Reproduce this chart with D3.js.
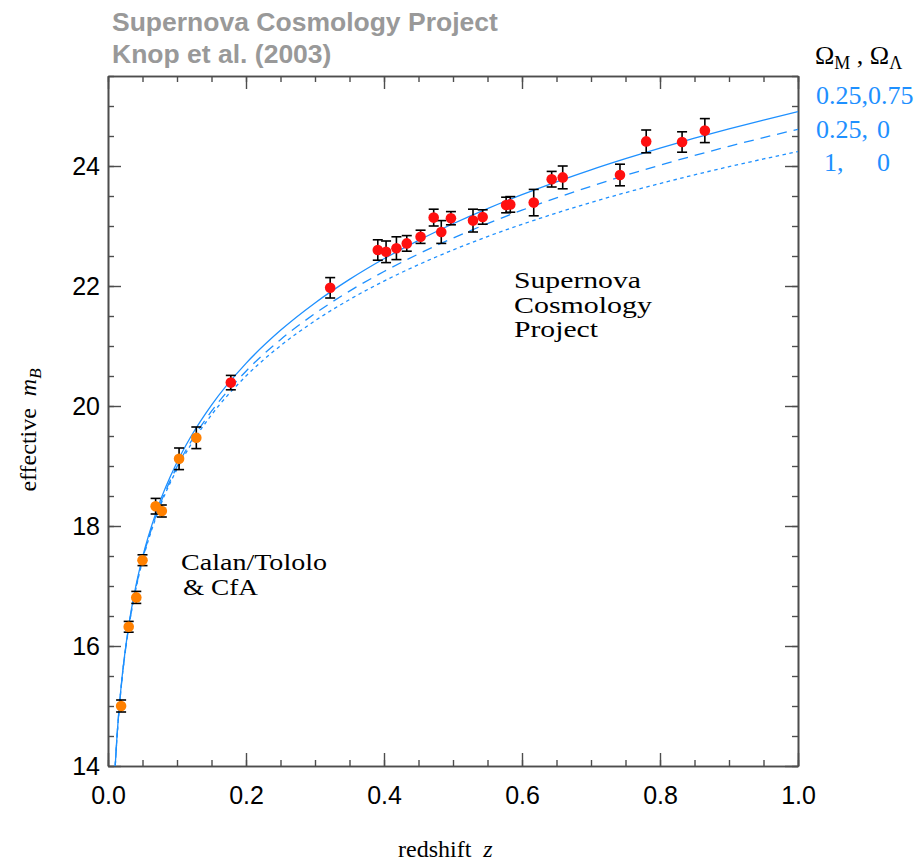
<!DOCTYPE html>
<html>
<head>
<meta charset="utf-8">
<script src="https://cdn.jsdelivr.net/npm/d3@7"></script>
<style>
  body { margin: 0; background: #fff; }
  svg { display: block; }
</style>
</head>
<body>
<div id="chart"></div>
<script>
// ---- data ----
// low-redshift sample (Calan/Tololo & CfA)
var lowZ   = [0.019, 0.030, 0.041, 0.050, 0.069, 0.078, 0.103, 0.128];
var lowM   = [15.00, 16.32, 16.81, 17.43, 18.33, 18.25, 19.12, 19.47];
var lowErr = [0.10, 0.09, 0.10, 0.09, 0.13, 0.10, 0.18, 0.18];

// high-redshift sample (Supernova Cosmology Project)
var scpZ   = [0.178, 0.322, 0.391, 0.403, 0.418, 0.433, 0.453, 0.472, 0.483, 0.497, 0.529,
              0.543, 0.577, 0.583, 0.617, 0.643, 0.659, 0.742, 0.780, 0.832, 0.865];
var scpM   = [20.39, 21.97, 22.60, 22.57, 22.63, 22.71, 22.82, 23.14, 22.90, 23.13, 23.09,
              23.15, 23.35, 23.36, 23.39, 23.78, 23.81, 23.85, 24.41, 24.40, 24.59];
var scpErr = [0.12, 0.17, 0.17, 0.18, 0.19, 0.13, 0.11, 0.14, 0.19, 0.11, 0.19,
              0.12, 0.13, 0.13, 0.22, 0.13, 0.19, 0.18, 0.19, 0.17, 0.20];

// model curves
var curveZ = [0.01, 0.013, 0.015, 0.02, 0.03, 0.04, 0.05, 0.07, 0.1, 0.12, 0.15, 0.2, 0.25, 0.3,
              0.35, 0.4, 0.45, 0.5, 0.55, 0.6, 0.65, 0.7, 0.75, 0.8, 0.85, 0.9, 0.95, 1.0];
var mLambda = [13.915, 14.490, 14.804, 15.437, 16.335, 16.977, 17.477, 18.240, 19.062, 19.488,
               20.016, 20.711, 21.261, 21.718, 22.110, 22.454, 22.761, 23.038, 23.291, 23.523,
               23.737, 23.937, 24.123, 24.298, 24.463, 24.619, 24.766, 24.906];
var mOpen   = [13.906, 14.479, 14.792, 15.421, 16.311, 16.945, 17.439, 18.187, 18.989, 19.402,
               19.913, 20.580, 21.106, 21.541, 21.915, 22.242, 22.534, 22.799, 23.040, 23.263,
               23.469, 23.662, 23.843, 24.013, 24.175, 24.328, 24.473, 24.612];
var mEdS    = [13.902, 14.474, 14.786, 15.413, 16.299, 16.928, 17.418, 18.159, 18.948, 19.354,
               19.852, 20.499, 21.004, 21.420, 21.774, 22.082, 22.355, 22.601, 22.824, 23.028,
               23.216, 23.392, 23.555, 23.708, 23.852, 23.989, 24.118, 24.241];

var legendOmegaM = ["0.25", "0.25", "1,"];
var legendOmegaL = ["0.75", "0", "0"];

var xTicks = [0.0, 0.2, 0.4, 0.6, 0.8, 1.0];
var yTicks = [14, 16, 18, 20, 22, 24];

// ---- layout ----
var margin = {top: 76, right: 120, bottom: 95, left: 108},
    width = 690,
    height = 690;

var blue = "#1e90ff";
var axisColor = "#4d4d4d";

var svgRoot = d3.select("#chart")
  .append("svg")
    .attr("width", 918)
    .attr("height", 861);

var svg = svgRoot.append("g")
    .attr("transform", "translate(" + margin.left + "," + margin.top + ")");

var x = d3.scaleLinear().domain([0, 1]).range([0, width]);
var y = d3.scaleLinear().domain([14, 25.5]).range([height, 0]);

svg.append("clipPath")
    .attr("id", "plotclip")
  .append("rect")
    .attr("width", width)
    .attr("height", height);

// ---- axes (ticks point inward, box on all four sides) ----
var xMinor = d3.range(0, 1.0001, 0.05);
var yMinor = d3.range(14, 25.5001, 0.5);

function styleAxis(g) {
  g.selectAll(".domain").attr("stroke", axisColor).attr("stroke-width", 1.6);
  g.selectAll(".tick line").attr("stroke", axisColor).attr("stroke-width", 1.4);
  g.selectAll("text")
    .attr("fill", "#000")
    .style("font-family", "'Liberation Sans', Arial, sans-serif")
    .style("font-size", "25px");
}

// bottom
svg.append("g")
    .attr("transform", "translate(0," + height + ")")
    .call(d3.axisBottom(x).tickValues(xMinor).tickSizeInner(-6).tickSizeOuter(0).tickFormat(""))
    .call(styleAxis);
svg.append("g")
    .attr("transform", "translate(0," + height + ")")
    .call(d3.axisBottom(x).tickValues(xTicks).tickSizeInner(-13).tickSizeOuter(0)
      .tickPadding(20).tickFormat(d3.format(".1f")))
    .call(styleAxis);
// top
svg.append("g")
    .call(d3.axisTop(x).tickValues(xMinor).tickSizeInner(-6).tickSizeOuter(0).tickFormat(""))
    .call(styleAxis);
svg.append("g")
    .call(d3.axisTop(x).tickValues(xTicks).tickSizeInner(-13).tickSizeOuter(0).tickFormat(""))
    .call(styleAxis);
// left
svg.append("g")
    .call(d3.axisLeft(y).tickValues(yMinor).tickSizeInner(-6).tickSizeOuter(0).tickFormat(""))
    .call(styleAxis);
svg.append("g")
    .call(d3.axisLeft(y).tickValues(yTicks).tickSizeInner(-13).tickSizeOuter(0)
      .tickPadding(8).tickFormat(d3.format("d")))
    .call(styleAxis);
// right
svg.append("g")
    .attr("transform", "translate(" + width + ",0)")
    .call(d3.axisRight(y).tickValues(yMinor).tickSizeInner(-6).tickSizeOuter(0).tickFormat(""))
    .call(styleAxis);
svg.append("g")
    .attr("transform", "translate(" + width + ",0)")
    .call(d3.axisRight(y).tickValues(yTicks).tickSizeInner(-13).tickSizeOuter(0).tickFormat(""))
    .call(styleAxis);

// ---- model curves ----
var curves = [
  {m: mLambda, dash: null},
  {m: mOpen,   dash: "10,7"},
  {m: mEdS,    dash: "3.5,3.5"}
];

var line = d3.line()
    .x(function(d) { return x(d[0]); })
    .y(function(d) { return y(d[1]); })
    .curve(d3.curveMonotoneX);

svg.append("g")
    .attr("clip-path", "url(#plotclip)")
  .selectAll("path")
  .data(curves)
  .enter()
  .append("path")
    .attr("d", function(c) { return line(curveZ.map(function(z, i) { return [z, c.m[i]]; })); })
    .attr("fill", "none")
    .attr("stroke", blue)
    .attr("stroke-width", 1.3)
    .attr("stroke-dasharray", function(c) { return c.dash; });

// ---- points with error bars ----
function drawSet(zs, ms, errs, color) {
  var data = zs.map(function(z, i) { return {z: z, m: ms[i], e: errs[i]}; });
  var g = svg.append("g");
  var bars = g.selectAll(".err")
    .data(data)
    .enter()
    .append("g")
      .attr("class", "err")
      .attr("stroke", "#000")
      .attr("stroke-width", 1.6);
  bars.append("line")
      .attr("x1", function(d) { return x(d.z); })
      .attr("x2", function(d) { return x(d.z); })
      .attr("y1", function(d) { return y(d.m - d.e); })
      .attr("y2", function(d) { return y(d.m + d.e); });
  bars.append("line")
      .attr("x1", function(d) { return x(d.z) - 5; })
      .attr("x2", function(d) { return x(d.z) + 5; })
      .attr("y1", function(d) { return y(d.m + d.e); })
      .attr("y2", function(d) { return y(d.m + d.e); });
  bars.append("line")
      .attr("x1", function(d) { return x(d.z) - 5; })
      .attr("x2", function(d) { return x(d.z) + 5; })
      .attr("y1", function(d) { return y(d.m - d.e); })
      .attr("y2", function(d) { return y(d.m - d.e); });
  g.selectAll("circle")
    .data(data)
    .enter()
    .append("circle")
      .attr("cx", function(d) { return x(d.z); })
      .attr("cy", function(d) { return y(d.m); })
      .attr("r", 5.3)
      .attr("fill", color);
}
drawSet(lowZ, lowM, lowErr, "#ff8000");
drawSet(scpZ, scpM, scpErr, "#ff1010");

// ---- annotations ----
var serif = "'Liberation Serif', 'Times New Roman', serif";

// the original font is wider than Times, so stretch each line to its measured width
function label(s, x0, y0, len) {
  svgRoot.append("text")
      .attr("x", x0)
      .attr("y", y0)
      .attr("textLength", len)
      .attr("lengthAdjust", "spacingAndGlyphs")
      .style("font-family", serif)
      .style("font-size", "23px")
      .attr("fill", "#000")
      .text(s);
}
label("Supernova", 514, 288, 127);
label("Cosmology", 514, 313, 138);
label("Project", 514, 337, 84);
label("Calan/Tololo", 181, 570, 146);
label("& CfA", 183, 595, 75);

// title
svgRoot.append("text")
    .attr("x", 112).attr("y", 31)
    .attr("fill", "#999")
    .style("font-family", "'Liberation Sans', Arial, sans-serif")
    .style("font-weight", "bold")
    .style("font-size", "26.5px")
    .text("Supernova Cosmology Project");
svgRoot.append("text")
    .attr("x", 112).attr("y", 63)
    .attr("fill", "#999")
    .style("font-family", "'Liberation Sans', Arial, sans-serif")
    .style("font-weight", "bold")
    .style("font-size", "26.5px")
    .text("Knop et al. (2003)");

// axis titles
var xt = svgRoot.append("text")
    .attr("x", 398).attr("y", 857)
    .style("font-family", serif)
    .style("font-size", "24px");
xt.append("tspan").text("redshift");
xt.append("tspan").attr("dx", 12).style("font-style", "italic").text("z");

var yt = svgRoot.append("text")
    .attr("transform", "translate(36,430) rotate(-90)")
    .attr("text-anchor", "middle")
    .style("font-family", serif)
    .style("font-size", "24px");
yt.append("tspan").text("effective");
yt.append("tspan").attr("dx", 12).style("font-style", "italic").text("m");
yt.append("tspan").attr("dy", 5).style("font-style", "italic").style("font-size", "17px").text("B");

// legend
var lg = svgRoot.append("text")
    .attr("x", 815).attr("y", 64)
    .style("font-family", serif)
    .style("font-size", "26px");
lg.append("tspan").text("\u03A9");
lg.append("tspan").attr("dy", 5).style("font-size", "18px").text("M");
lg.append("tspan").attr("dy", -5).text(" , \u03A9");
lg.append("tspan").attr("dy", 5).style("font-size", "18px").text("\u039B");

var legX1 = [816, 816, 824];
legendOmegaM.forEach(function(om, i) {
  var yy = 104 + i * 33.5;
  svgRoot.append("text")
      .attr("x", legX1[i]).attr("y", yy)
      .attr("fill", blue)
      .style("font-family", serif)
      .style("font-size", "26px")
      .text(i == 0 ? om + "," + legendOmegaL[i] : om + (i == 1 ? "," : ""));
  if (i > 0) {
    svgRoot.append("text")
        .attr("x", 877).attr("y", yy)
        .attr("fill", blue)
        .style("font-family", serif)
        .style("font-size", "26px")
        .text(legendOmegaL[i]);
  }
});
</script>
</body>
</html>
